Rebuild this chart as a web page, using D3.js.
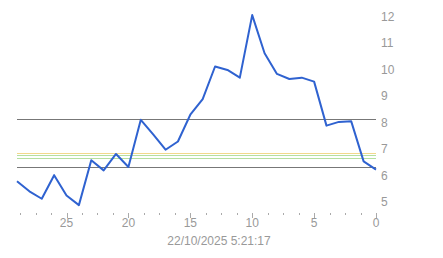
<!DOCTYPE html>
<html>
<head>
<meta charset="utf-8">
<script src="https://cdn.jsdelivr.net/npm/d3@7"></script>
<style>
  body { margin: 0; background: #fff; }
  svg text { font-family: "Liberation Sans", Arial, sans-serif; font-size: 12px; fill: #999; }
</style>
</head>
<body>
<div id="chart"></div>
<script>
// days ago (29 .. 0) and the readings
const daysAgo = [29, 28, 27, 26, 25, 24, 23, 22, 21, 20, 19, 18, 17, 16, 15,
                 14, 13, 12, 11, 10, 9, 8, 7, 6, 5, 4, 3, 2, 1, 0];
const readings = [5.78, 5.40, 5.12, 6.01, 5.24, 4.88, 6.57, 6.19, 6.81, 6.32, 8.10, 7.55, 6.97, 7.28, 8.29,
                  8.88, 10.11, 9.98, 9.69, 12.05, 10.61, 9.83, 9.64, 9.69, 9.54, 7.88, 8.02, 8.04, 6.53, 6.22];

// horizontal reference levels
const refValues = [8.13, 6.30, 6.86, 6.76, 6.67];
const refColors = ["#777777", "#777777", "#f2d98c", "#b5e0a0", "#b5e0a0"];

const yTicks = [5, 6, 7, 8, 9, 10, 11, 12];
const xMajor = [25, 20, 15, 10, 5, 0];
const stamp = "22/10/2025 5:21:17";

const width = 443, height = 258;
const plotLeft = 17, plotRight = 376, plotTop = 0, plotBottom = 212;

const svg = d3.select("#chart").append("svg")
    .attr("width", width)
    .attr("height", height);

const x = d3.scaleLinear().domain([29, 0]).range([plotLeft, plotRight]);
const y = d3.scaleLinear().domain([4.62, 12.62]).range([plotBottom, plotTop]);

// reference lines
svg.append("g").selectAll("line")
    .data(refValues)
    .enter().append("line")
    .attr("x1", plotLeft).attr("x2", plotRight)
    .attr("y1", d => Math.round(y(d)) + 0.5)
    .attr("y2", d => Math.round(y(d)) + 0.5)
    .attr("stroke", (d, i) => refColors[i])
    .attr("stroke-width", 1.2);

// x axis: little ticks every 1.25, longer at the labelled ones
const minor = d3.range(0, 29.1, 1.25);
svg.append("g").selectAll("line")
    .data(minor)
    .enter().append("line")
    .attr("x1", d => Math.round(x(d)) + 0.5)
    .attr("x2", d => Math.round(x(d)) + 0.5)
    .attr("y1", plotBottom + 1)
    .attr("y2", d => xMajor.includes(d) ? plotBottom + 6 : plotBottom + 3)
    .attr("stroke", "#aaa");

svg.append("g").selectAll("text")
    .data(xMajor)
    .enter().append("text")
    .attr("x", d => x(d))
    .attr("y", 227)
    .attr("text-anchor", "middle")
    .text(d => d);

svg.append("text")
    .attr("x", 219)
    .attr("y", 245)
    .attr("text-anchor", "middle")
    .text(stamp);

// y labels on the right
svg.append("g").selectAll("text")
    .data(yTicks)
    .enter().append("text")
    .attr("x", 381)
    .attr("y", d => y(d))
    .attr("dy", "0.35em")
    .text(d => d);

// the series
const line = d3.line()
    .x((d, i) => x(daysAgo[i]))
    .y(d => y(d));

svg.append("path")
    .datum(readings)
    .attr("fill", "none")
    .attr("stroke", "#2f62d0")
    .attr("stroke-width", 2)
    .attr("stroke-linejoin", "round")
    .attr("d", line);
</script>
</body>
</html>
